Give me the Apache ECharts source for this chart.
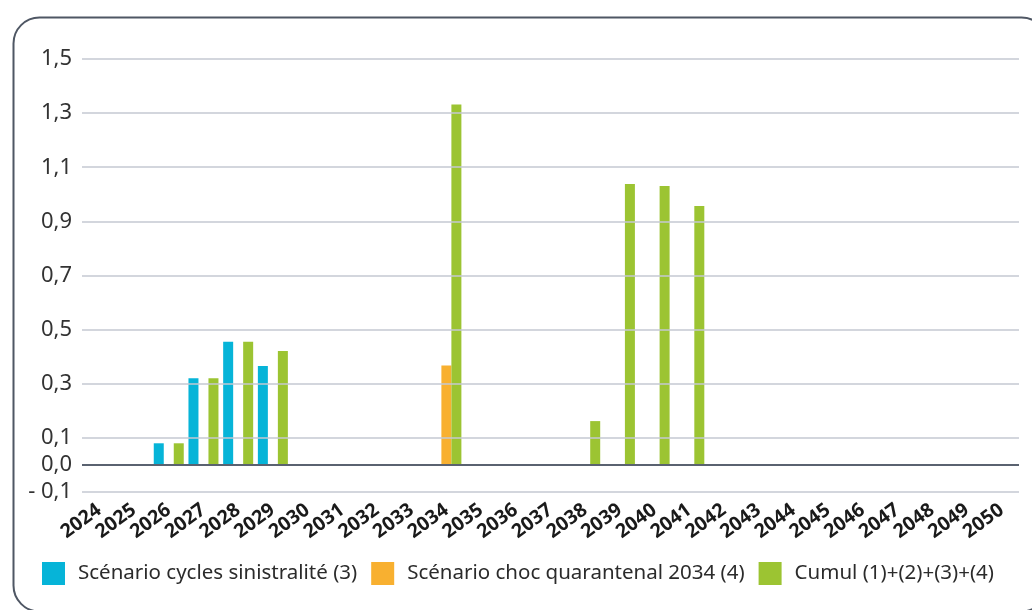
<!DOCTYPE html>
<html>
<head>
<meta charset="utf-8">
<script src="https://cdn.jsdelivr.net/npm/echarts@6/dist/echarts.min.js"></script>
<style>
html,body{margin:0;padding:0;background:#fff;}
#chart{width:1032px;height:610px;}
</style>
</head>
<body>
<div id="chart"></div>
<script>
const years = ['2024','2025','2026','2027','2028','2029','2030','2031','2032','2033','2034','2035','2036','2037','2038','2039','2040','2041','2042','2043','2044','2045','2046','2047','2048','2049','2050'];
const cyclesSinistralite = [null,null,0.08,0.32,0.455,0.366,null,null,null,null,null,null,null,null,null,null,null,null,null,null,null,null,null,null,null,null,null];
const chocQuarantenal = [null,null,null,null,null,null,null,null,null,null,0.367,null,null,null,null,null,null,null,null,null,null,null,null,null,null,null,null];
const cumul = [null,null,0.08,0.32,0.455,0.421,null,null,null,null,1.332,null,null,null,0.162,1.038,1.031,0.957,null,null,null,null,null,null,null,null,null];
const seriesNames = ['Scénario cycles sinistralité (3)','Scénario choc quarantenal 2034 (4)','Cumul (1)+(2)+(3)+(4)'];
const yLabelValues = [-0.1, 0, 0.1, 0.3, 0.5, 0.7, 0.9, 1.1, 1.3, 1.5];
const yLabelTexts = ['- 0,1','0,0','0,1','0,3','0,5','0,7','0,9','1,1','1,3','1,5'];
const gridLineValues = [-0.1, 0.1, 0.3, 0.5, 0.7, 0.9, 1.1, 1.3, 1.5];

const FONT = 'Noto Sans';
const chart = echarts.init(document.getElementById('chart'), null, {renderer:'canvas'});
chart.setOption({
  animation:false,
  backgroundColor:'#fff',
  textStyle:{fontFamily:FONT},
  graphic:[{
    type:'rect', left:11, top:15, silent:true,
    shape:{x:0,y:0,width:1034,height:594,r:26},
    style:{fill:'none',stroke:'#4f5764',lineWidth:2}
  }],
  grid:{left:82,right:13,top:59,bottom:118,containLabel:false},
  legend:{
    left:42, top:562, padding:0, icon:'rect', itemWidth:23, itemHeight:23, itemGap:14,
    data:seriesNames,
    textStyle:{fontFamily:FONT,fontSize:20.5,color:'#2b2b2b',padding:[0,0,0,8]}
  },
  xAxis:{
    type:'category', data:years, boundaryGap:true,
    axisLine:{show:false}, axisTick:{show:false}, splitLine:{show:false},
    axisLabel:{interval:0, rotate:36, margin:16, fontFamily:FONT, fontSize:19.5, fontWeight:'bold', color:'#1a1a1a'}
  },
  yAxis:{
    type:'value', min:-0.1, max:1.5, interval:0.1,
    axisLine:{show:false}, axisTick:{show:false}, splitLine:{show:false},
    axisLabel:{margin:10, fontFamily:FONT, fontSize:22, color:'#333',
      formatter:function(v){
        const i = yLabelValues.findIndex(x => Math.abs(x - v) < 1e-6);
        return i >= 0 ? yLabelTexts[i] : '';
      }}
  },
  series:[
    {name:'grid', type:'line', data:[], z:1, silent:true,
      markLine:{silent:true, symbol:['none','none'], label:{show:false},
        data:gridLineValues.map(v => ({yAxis:v})),
        lineStyle:{color:'#c5c9d2', width:1.5, type:'solid'}}},
    {name:seriesNames[0], type:'bar', data:cyclesSinistralite, barWidth:10, barGap:'0%', z:2, itemStyle:{color:'#06b4d8'}},
    {name:seriesNames[1], type:'bar', data:chocQuarantenal, barWidth:10, barGap:'0%', z:2, itemStyle:{color:'#f8b030'}},
    {name:seriesNames[2], type:'bar', data:cumul, barWidth:10, barGap:'0%', z:2, itemStyle:{color:'#9cc432'}},
    {name:'zero', type:'line', data:[], z:5, silent:true,
      markLine:{silent:true, symbol:['none','none'], label:{show:false},
        data:[{yAxis:0}],
        lineStyle:{color:'#5a6270', width:2.2, type:'solid'}}}
  ]
});
</script>
</body>
</html>
